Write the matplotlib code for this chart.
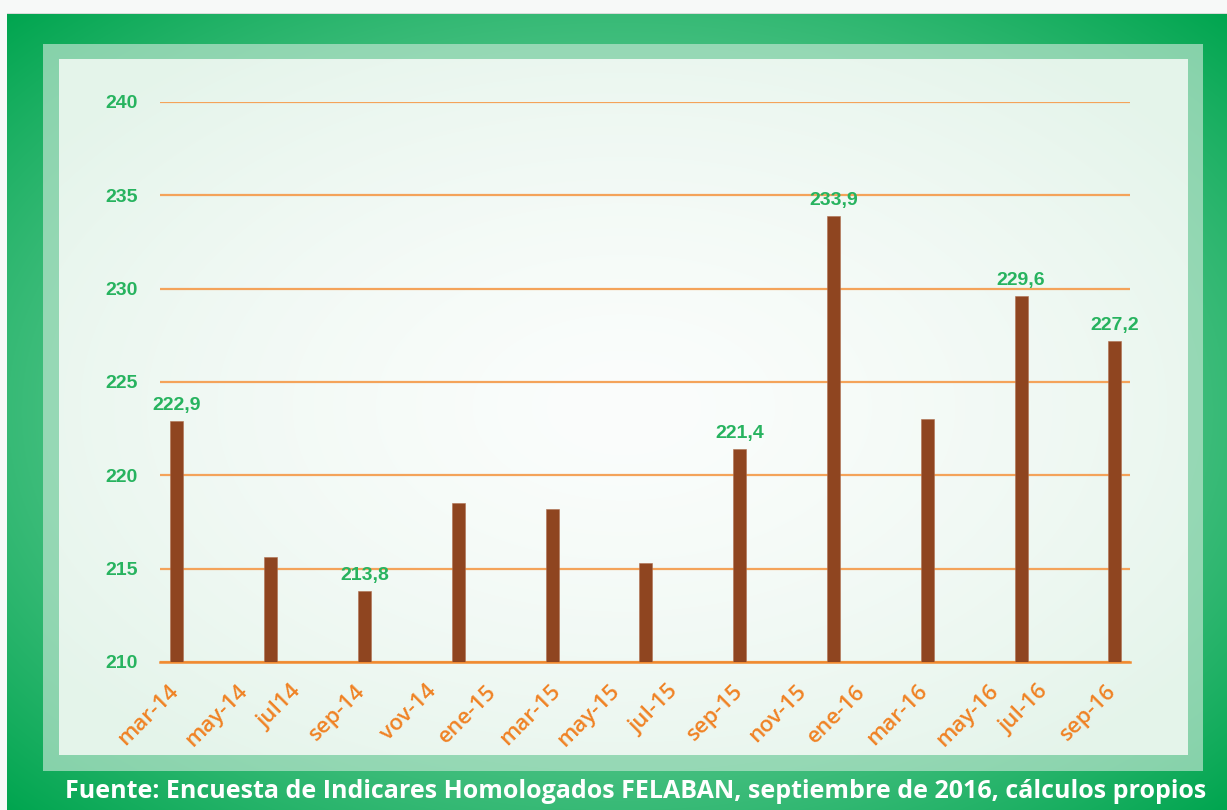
import numpy as np
import matplotlib
matplotlib.use("Agg")
import matplotlib.pyplot as plt
from matplotlib.colors import to_rgb

# ---------------- data ----------------
periods = ["mar-14", "jun-14", "sep-14", "dic-14", "mar-15", "jun-15",
           "sep-15", "dic-15", "mar-16", "jun-16", "sep-16"]
values = [222.9, 215.6, 213.8, 218.5, 218.2, 215.3, 221.4, 233.9, 223.0, 229.6, 227.2]
labeled = [0, 2, 6, 7, 9, 10]

tick_labels = ["mar-14", "may-14", "jul14", "sep-14", "vov-14", "ene-15",
               "mar-15", "may-15", "jul-15", "sep-15", "nov-15", "ene-16",
               "mar-16", "may-16", "jul-16", "sep-16"]
tick_pos = [-0.02, 0.72, 1.29, 1.97, 2.73, 3.37, 4.06, 4.69, 5.31, 6.00,
            6.67, 7.31, 7.97, 8.72, 9.25, 9.98]
y_ticks = [210, 215, 220, 225, 230, 235, 240]
source = "Fuente: Encuesta de Indicares Homologados FELABAN, septiembre de 2016, cálculos propios"

W, H = 1227, 810
fig = plt.figure(figsize=(W / 100, H / 100), dpi=100)

# ---------------- background frames ----------------
yy, xx = np.mgrid[0:H, 0:W]


def radial(x0, y0, x1, y1):
    cx, cy = (x0 + x1) / 2, (y0 + y1) / 2
    dx = (xx - cx) / ((x1 - x0) / 2)
    dy = (yy - cy) / ((y1 - y0) / 2)
    return np.clip(np.sqrt(dx ** 2 + dy ** 2) / np.sqrt(2), 0, 1)


def mix(c0, c1, s):
    c0 = np.array(to_rgb(c0)); c1 = np.array(to_rgb(c1))
    return c0[None, None, :] * (1 - s[..., None]) + c1[None, None, :] * s[..., None]


img = np.ones((H, W, 3)) * np.array(to_rgb("#f7f9f8"))
# outer green
t = radial(7, 13, W, H)
s = np.clip((t - 0.45) / 0.55, 0, 1) ** 1.2
outer = mix("#5cc890", "#00a54f", s)
m = (xx >= 7) & (yy >= 14)
img[m] = outer[m]
img[13, 7:] = np.array(to_rgb("#d8dcda"))
# light frame
t2 = radial(43, 44, 1203, 771)
frame = mix("#a6dfc0", "#86d2aa", t2 ** 2)
m2 = (xx >= 43) & (xx < 1203) & (yy >= 44) & (yy < 771)
img[m2] = frame[m2]
# inner panel
t3 = radial(59, 59, 1188, 755)
panel = mix("#fbfdfc", "#e4f4ea", np.clip(t3 * 1.1, 0, 1) ** 1.4)
m3 = (xx >= 59) & (xx < 1188) & (yy >= 59) & (yy < 755)
img[m3] = panel[m3]

bg = fig.add_axes([0, 0, 1, 1], zorder=0)
bg.imshow(img, extent=(0, W, H, 0), aspect="auto", interpolation="bilinear")
bg.set_xlim(0, W); bg.set_ylim(H, 0)
bg.axis("off")

# ---------------- chart ----------------
green = "#27b35f"
orange = "#f08224"
brown = "#8f4520"

ax = fig.add_axes([160 / W, 1 - 662 / H, 970 / W, 560 / H], zorder=2)
ax.patch.set_alpha(0)
x = np.arange(len(values))
bw = 13 / 93.8
ax.bar(x, [v - 210 for v in values], bottom=210, width=bw, color=brown,
       edgecolor="#b07050", linewidth=0.4, zorder=3)
for i in labeled:
    ax.annotate(f"{values[i]:.1f}".replace(".", ","), (x[i], values[i]),
                xytext=(0, 5), textcoords="offset points", ha="center", va="bottom",
                color=green, fontsize=14, fontweight="bold",
                family="Liberation Sans", zorder=4)

ax.set_xlim(-0.18, 10.16)
ax.set_ylim(210, 240)
ax.set_yticks(y_ticks)
ax.set_yticklabels([str(v) for v in y_ticks], color=green, fontsize=14,
                   fontweight="bold", family="Liberation Sans")
ax.yaxis.grid(True, color="#f4a35a", linewidth=1.6, zorder=1)
ax.set_axisbelow(True)
ax.tick_params(axis="y", length=0, pad=16)
ax.set_xticks(tick_pos)
ax.set_xticklabels(tick_labels, rotation=45, ha="right", va="center",
                   rotation_mode="anchor", color=orange, fontsize=16,
                   fontweight="semibold", family="Open Sans")
ax.tick_params(axis="x", length=0, pad=19)
for sp in ["top", "right", "left"]:
    ax.spines[sp].set_visible(False)
ax.spines["bottom"].set_color("#f08a30")
ax.spines["bottom"].set_linewidth(1.8)
ax.spines["bottom"].set_zorder(2)

fig.text(636 / W, 1 - 791 / H, source, ha="center", va="center", color="white",
         fontsize=18, fontweight="bold", family="Open Sans", zorder=5)

fig.savefig("out.png", dpi=100)
